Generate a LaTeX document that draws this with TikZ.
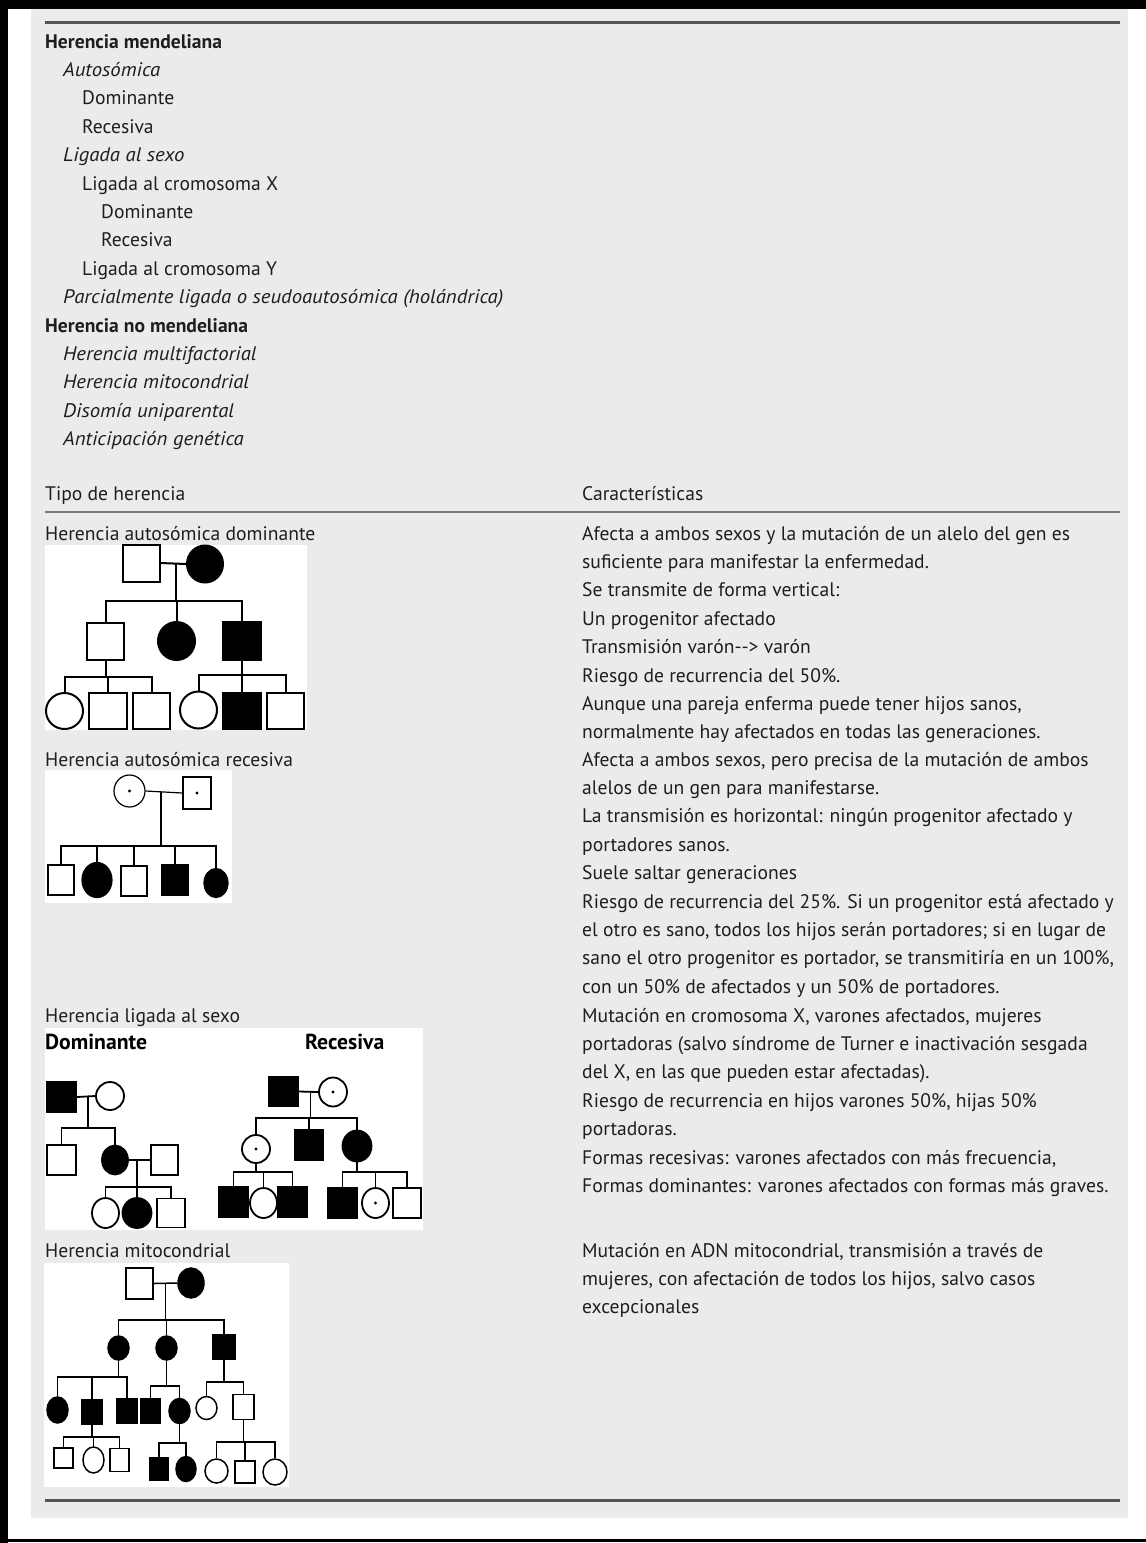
\documentclass[tikz,border=0pt]{standalone}
\usepackage{fontspec}
\setmainfont{PT Sans}
\usetikzlibrary{shapes.geometric,calc}
\definecolor{panel}{HTML}{EBEBEB}
\definecolor{rulegray}{HTML}{555555}
\definecolor{inkgray}{HTML}{1E1E1E}
\newcommand{\itl}[1]{{\itshape\addfontfeatures{FakeStretch=1.06}#1}}
\tikzset{
  % multi-line blocks are placed by the baseline of their last line
  txt/.style={anchor=base west,inner sep=0pt,text=inkgray,font=\fontsize{19.6}{28.4}\selectfont,align=left},
  bigtxt/.style={anchor=base west,inner sep=0pt,font=\fontsize{21.7}{26}\selectfont\bfseries},
  rulethick/.style={rulegray,line width=3pt},
  rulethin/.style={rulegray!80,line width=1.8pt},
  ped/.style={draw,inner sep=0pt,fill=white},
  male/.style={ped,rectangle},
  female/.style={ped,ellipse},
  aff/.style={fill=black},
  carrier/.style={path picture={\fill[black] (path picture bounding box.center) circle (1.6pt);}},
  sz/.style 2 args={minimum width=#1,minimum height=#2}
}
\begin{document}
\begin{tikzpicture}[x=1pt,y=-1pt]
  \useasboundingbox (0,0) rectangle (1146,1543);
  % frame and panel
  \fill[black] (0,0) rectangle (1146,9);
  \fill[black] (0,0) rectangle (8,1543);
  \fill[black] (0,1539) rectangle (1146,1542);
  \fill[panel] (31,9) rectangle (1128,1518);
  \draw[rulethick] (45,22) -- (1120,22);
  \draw[rulethin] (45,512) -- (1120,512);
  \draw[rulethick] (45,1500) -- (1120,1500);
  % classification list
  \node[txt] (list) at (45,445.6) {{\bfseries Herencia mendeliana}\\
    \hspace*{18pt}\itl{Autosómica}\\
    \hspace*{37pt}Dominante\\
    \hspace*{37pt}Recesiva\\
    \hspace*{18pt}\itl{Ligada al sexo}\\
    \hspace*{37pt}Ligada al cromosoma X\\
    \hspace*{56pt}Dominante\\
    \hspace*{56pt}Recesiva\\
    \hspace*{37pt}Ligada al cromosoma Y\\
    \hspace*{18pt}\itl{Parcialmente ligada o seudoautosómica (holándrica)}\\
    {\bfseries Herencia no mendeliana}\\
    \hspace*{18pt}\itl{Herencia multifactorial}\\
    \hspace*{18pt}\itl{Herencia mitocondrial}\\
    \hspace*{18pt}\itl{Disomía uniparental}\\
    \hspace*{18pt}\itl{Anticipación genética}};
  % table head
  \node[txt] (tipo) at (45,500) {Tipo de herencia};
  \node[txt] (carac) at (582,500) {Características};
  % left column labels
  \node[txt] (lblad) at (45,540) {Herencia autosómica dominante};
  \node[txt] (lblar) at (45,766) {Herencia autosómica recesiva};
  \node[txt] (lblx) at (45,1022) {Herencia ligada al sexo};
  \node[txt] (lblmt) at (45,1257) {Herencia mitocondrial};
  % right column
  \node[txt] (txtad) at (582,738.8) {Afecta a ambos sexos y la mutación de un alelo del gen es\\
    suficiente para manifestar la enfermedad.\\
    Se transmite de forma vertical:\\
    Un progenitor afectado\\
    Transmisión varón-{}-> varón\\
    Riesgo de recurrencia del 50\%.\\
    Aunque una pareja enferma puede tener hijos sanos,\\
    normalmente hay afectados en todas las generaciones.};
  \node[txt] (txtar) at (582,993.2) {Afecta a ambos sexos, pero precisa de la mutación de ambos\\
    alelos de un gen para manifestarse.\\
    La transmisión es horizontal: ningún progenitor afectado y\\
    portadores sanos.\\
    Suele saltar generaciones\\
    Riesgo de recurrencia del 25\%. Si un progenitor está afectado y\\
    el otro es sano, todos los hijos serán portadores; si en lugar de\\
    sano el otro progenitor es portador, se transmitiría en un 100\%,\\
    con un 50\% de afectados y un 50\% de portadores.};
  \node[txt] (txtx) at (582,1192.4) {Mutación en cromosoma X, varones afectados, mujeres\\
    portadoras (salvo síndrome de Turner e inactivación sesgada\\
    del X, en las que pueden estar afectadas).\\
    Riesgo de recurrencia en hijos varones 50\%, hijas 50\%\\
    portadoras.\\
    Formas recesivas: varones afectados con más frecuencia,\\
    Formas dominantes: varones afectados con formas más graves.};
  \node[txt] (txtmt) at (582,1313.8) {Mutación en ADN mitocondrial, transmisión a través de\\
    mujeres, con afectación de todos los hijos, salvo casos\\
    excepcionales};

  % autosomal dominant pedigree
  \begin{scope}[line width=2pt]
    \fill[white] (45,545) rectangle (307,730);
    \node[male,sz={37pt}{37pt}] (adF) at (141,563) {};
    \node[female,aff,sz={36pt}{37pt}] (adM) at (205,564) {};
    \node[male,sz={37pt}{37pt}] (adA) at (105.5,641) {};
    \node[female,aff,sz={37pt}{38pt}] (adB) at (176.5,641) {};
    \node[male,aff,sz={38pt}{38pt}] (adC) at (241.5,641) {};
    \node[female,sz={37pt}{36pt}] (adA1) at (64.5,711) {};
    \node[male,sz={38pt}{36pt}] (adA2) at (108,711) {};
    \node[male,sz={37pt}{36pt}] (adA3) at (151.5,711) {};
    \node[female,sz={37pt}{37pt}] (adC1) at (198.5,710) {};
    \node[male,aff,sz={38pt}{36pt}] (adC2) at (242,711) {};
    \node[male,sz={37pt}{36pt}] (adC3) at (285.5,711) {};
    \coordinate (adb) at (0,601);
    \coordinate (adAb) at (0,677);
    \coordinate (adCb) at (0,675);
    \draw (adF.east) -- (adM.west);
    \coordinate (adu) at ($(adF.east)!.6!(adM.west)$);
    \draw (adu) -- (adu |- adb);
    \draw (adA.north) |- (adC.north |- adb) -- (adC.north);
    \draw (adB.north) -- (adB.north |- adb);
    \draw (adA.south) -- (adA.south |- adAb);
    \draw (adA1.north) |- (adA3.north |- adAb) -- (adA3.north);
    \draw (adA2.north) -- (adA2.north |- adAb);
    \draw (adC.south) -- (adC.south |- adCb);
    \draw (adC1.north) |- (adC3.north |- adCb) -- (adC3.north);
    \draw (adC2.north) -- (adC2.north |- adCb);
  \end{scope}

  % autosomal recessive pedigree
  \begin{scope}[line width=1.2pt]
    \fill[white] (45,770) rectangle (232,903);
    \node[female,carrier,sz={31pt}{32pt}] (arM) at (129.5,791) {};
    \node[male,carrier,sz={28pt}{32pt}] (arF) at (197,793) {};
    \node[male,sz={26pt}{30pt}] (ar1) at (61,880) {};
    \node[female,aff,sz={30pt}{35pt}] (ar2) at (97,880) {};
    \node[male,sz={26pt}{30pt}] (ar3) at (134,881) {};
    \node[male,aff,sz={26pt}{30pt}] (ar4) at (175,880) {};
    \node[female,aff,sz={24pt}{29pt}] (ar5) at (216,883) {};
    \coordinate (arb) at (0,846);
    \draw (arM.east) -- (arF.west);
    \coordinate (aru) at ($(arM.east)!.42!(arF.west)$);
    \draw (aru) -- (aru |- arb);
    \draw (ar1.north) |- (ar5.north |- arb) -- (ar5.north);
    \draw (ar2.north) -- (ar2.north |- arb);
    \draw (ar3.north) -- (ar3.north |- arb);
    \draw (ar4.north) -- (ar4.north |- arb);
  \end{scope}

  % X-linked pedigrees
  \fill[white] (45,1028) rectangle (423,1230);
  \node[bigtxt] (lbldom) at (45,1049) {Dominante};
  \node[bigtxt] (lblrec) at (305,1049) {Recesiva};
  \begin{scope}[line width=1.8pt]
    % dominant
    \node[male,aff,sz={29pt}{30pt}] (xdF) at (61.5,1097) {};
    \node[female,sz={28pt}{28pt}] (xdM) at (110,1096) {};
    \node[male,sz={29pt}{30pt}] (xdA) at (61.5,1160) {};
    \node[female,aff,sz={26pt}{29pt}] (xdB) at (115,1160) {};
    \node[male,sz={27pt}{30pt}] (xdH) at (164.5,1160) {};
    \node[female,sz={27pt}{30pt}] (xdB1) at (105.5,1213) {};
    \node[female,aff,sz={29pt}{30pt}] (xdB2) at (137,1213) {};
    \node[male,sz={28pt}{29pt}] (xdB3) at (171,1213) {};
    \coordinate (xdb) at (0,1128);
    \coordinate (xdBb) at (0,1187);
    \draw (xdF.east) -- (xdM.west);
    \coordinate (xdu) at ($(xdF.east)!.6!(xdM.west)$);
    \draw (xdu) -- (xdu |- xdb);
    \draw (xdA.north) |- (xdB.north |- xdb) -- (xdB.north);
    \draw (xdB.east) -- (xdH.west);
    \coordinate (xdv) at ($(xdB.east)!.4!(xdH.west)$);
    \draw (xdv) -- (xdv |- xdBb);
    \draw (xdB1.north) |- (xdB3.north |- xdBb) -- (xdB3.north);
    \draw (xdB2.north) -- (xdB2.north |- xdBb);
    % recessive
    \node[male,aff,sz={29pt}{29pt}] (xrF) at (283.5,1091.5) {};
    \node[female,carrier,sz={28pt}{29pt}] (xrM) at (333,1092) {};
    \node[female,carrier,sz={28pt}{28pt}] (xrA) at (256,1149) {};
    \node[male,aff,sz={28pt}{30pt}] (xrB) at (309,1145) {};
    \node[female,aff,sz={29pt}{31pt}] (xrC) at (357,1146) {};
    \node[male,aff,sz={29pt}{31pt}] (xrA1) at (233.5,1202) {};
    \node[female,sz={27pt}{30pt}] (xrA2) at (263.5,1203) {};
    \node[male,aff,sz={29pt}{31pt}] (xrA3) at (292.5,1202) {};
    \node[male,aff,sz={29pt}{30pt}] (xrC1) at (342.5,1203) {};
    \node[female,carrier,sz={27pt}{30pt}] (xrC2) at (375.5,1203) {};
    \node[male,sz={28pt}{30pt}] (xrC3) at (407,1203) {};
    \coordinate (xrb) at (0,1118);
    \coordinate (xrAb) at (0,1172);
    \coordinate (xrCb) at (0,1172);
    \draw (xrF.east) -- (xrM.west);
    \coordinate (xru) at ($(xrF.east)!.6!(xrM.west)$);
    \draw (xru) -- (xru |- xrb);
    \draw (xrA.north) |- (xrC.north |- xrb) -- (xrC.north);
    \draw (xrB.north) -- (xrB.north |- xrb);
    \draw (xrA.south) -- (xrA.south |- xrAb);
    \draw (xrA1.north) |- (xrA3.north |- xrAb) -- (xrA3.north);
    \draw (xrA2.north) -- (xrA2.north |- xrAb);
    \draw (xrC.south) -- (xrC.south |- xrCb);
    \draw (xrC1.north) |- (xrC3.north |- xrCb) -- (xrC3.north);
    \draw (xrC2.north) -- (xrC2.north |- xrCb);
  \end{scope}

  % mitochondrial pedigree
  \begin{scope}[line width=1.5pt]
    \fill[white] (44,1263) rectangle (289,1487);
    \node[male,sz={27pt}{31pt}] (mtF) at (139.5,1283.5) {};
    \node[female,aff,sz={26pt}{30pt}] (mtM) at (191,1283) {};
    \node[female,aff,sz={21pt}{24pt}] (mtA) at (118.5,1348) {};
    \node[female,aff,sz={21pt}{24pt}] (mtB) at (166.5,1348) {};
    \node[male,aff,sz={22pt}{24pt}] (mtC) at (224,1347) {};
    \node[female,aff,sz={21pt}{26pt}] (mtA1) at (57.5,1410) {};
    \node[male,aff,sz={20pt}{24pt}] (mtA2) at (92,1412) {};
    \node[male,aff,sz={20pt}{25pt}] (mtA3) at (127,1411) {};
    \node[male,aff,sz={19pt}{24pt}] (mtB1) at (150.5,1411) {};
    \node[female,aff,sz={21pt}{25pt}] (mtB2) at (179.5,1411) {};
    \node[female,sz={21pt}{23pt}] (mtC1) at (206.5,1408) {};
    \node[male,sz={21pt}{25pt}] (mtC2) at (243.5,1407) {};
    \node[male,sz={19pt}{20pt}] (mtA21) at (63.5,1458) {};
    \node[female,sz={21pt}{26pt}] (mtA22) at (93.5,1460) {};
    \node[male,sz={19pt}{23pt}] (mtA23) at (119.5,1460) {};
    \node[male,aff,sz={18pt}{22pt}] (mtB21) at (159,1469) {};
    \node[female,aff,sz={20pt}{25pt}] (mtB22) at (186,1469) {};
    \node[female,sz={23pt}{24pt}] (mtC21) at (216.5,1471) {};
    \node[male,sz={20pt}{22pt}] (mtC22) at (245,1472) {};
    \node[female,sz={24pt}{26pt}] (mtC23) at (275,1472) {};
    \coordinate (mtb) at (0,1320);
    \coordinate (mtAb) at (0,1377);
    \coordinate (mtBb) at (0,1386);
    \coordinate (mtCb) at (0,1382);
    \coordinate (mtA2b) at (0,1437);
    \coordinate (mtB2b) at (0,1443);
    \coordinate (mtC2b) at (0,1442);
    \draw (mtF.east) -- (mtM.west);
    \coordinate (mtu) at ($(mtF.east)!.5!(mtM.west)$);
    \draw (mtu) -- (mtu |- mtb);
    \draw (mtA.north) |- (mtC.north |- mtb) -- (mtC.north);
    \draw (mtB.north) -- (mtB.north |- mtb);
    \draw (mtA.south) -- (mtA.south |- mtAb);
    \draw (mtA1.north) |- (mtA3.north |- mtAb) -- (mtA3.north);
    \draw (mtA2.north) -- (mtA2.north |- mtAb);
    \draw (mtB.south) -- (mtB.south |- mtBb);
    \draw (mtB1.north) |- (mtB2.north |- mtBb) -- (mtB2.north);
    \draw (mtC.south) -- (mtC.south |- mtCb);
    \draw (mtC1.north) |- (mtC2.north |- mtCb) -- (mtC2.north);
    \draw (mtA2.south) -- (mtA2.south |- mtA2b);
    \draw (mtA21.north) |- (mtA23.north |- mtA2b) -- (mtA23.north);
    \draw (mtA22.north) -- (mtA22.north |- mtA2b);
    \draw (mtB2.south) -- (mtB2.south |- mtB2b);
    \draw (mtB21.north) |- (mtB22.north |- mtB2b) -- (mtB22.north);
    \draw (mtC2.south) -- (mtC2.south |- mtC2b);
    \draw (mtC21.north) |- (mtC23.north |- mtC2b) -- (mtC23.north);
    \draw (mtC22.north) -- (mtC22.north |- mtC2b);
  \end{scope}
\end{tikzpicture}
\end{document}
